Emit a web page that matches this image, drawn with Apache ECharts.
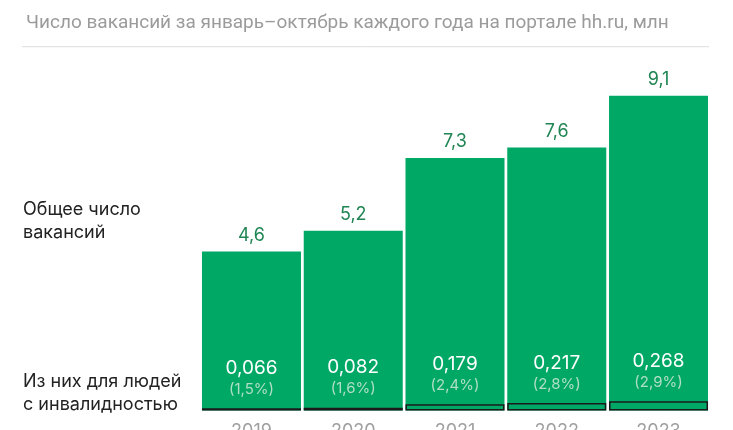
<!DOCTYPE html>
<html>
<head>
<meta charset="utf-8">
<script src="https://cdn.jsdelivr.net/npm/echarts@6/dist/echarts.min.js"></script>
<style>
  html, body { margin: 0; padding: 0; background: #fff; }
  #chart { width: 733px; height: 430px; }
</style>
</head>
<body>
<div id="chart"></div>
<script>
// данные
var years = ['2019', '2020', '2021', '2022', '2023'];
var totalVacancies = [4.6, 5.2, 7.3, 7.6, 9.1];          // млн
var disabledVacancies = [0.066, 0.082, 0.179, 0.217, 0.268]; // млн
var disabledShare = ['1,5%', '1,6%', '2,4%', '2,8%', '2,9%'];

var green = '#00a866';
var font = 'Roboto, "Noto Sans", sans-serif';
var font2 = 'Inter, Roboto, sans-serif';

function fmt(v) {
  return String(v).replace('.', ',');
}

var chart = echarts.init(document.getElementById('chart'));

var option = {
  backgroundColor: '#fff',
  animation: false,
  title: {
    text: 'Число вакансий за январь–октябрь каждого года на портале hh.ru, млн',
    left: 21,
    top: 9,
    textStyle: { color: '#9b9b9b', fontSize: 19, fontWeight: 'normal', fontFamily: font }
  },
  grid: { left: 200.6, right: 23.6, top: 64.6, bottom: 19.5, outerBoundsMode: 'none', containLabel: false },
  xAxis: {
    type: 'category',
    data: years,
    axisLine: { show: false },
    axisTick: { show: false },
    axisLabel: { color: '#a0a0a0', fontSize: 18, fontFamily: font2, margin: 12 }
  },
  yAxis: {
    type: 'value',
    min: 0,
    max: 10,
    show: false
  },
  graphic: [
    {
      type: 'line',
      shape: { x1: 22, y1: 46.7, x2: 709, y2: 46.7 },
      style: { stroke: '#dddddd', lineWidth: 1 }
    },
    {
      type: 'text',
      left: 23,
      top: 198,
      style: {
        text: 'Общее число\nвакансий',
        fill: '#222',
        font: '18px ' + font2,
        lineHeight: 23
      }
    },
    {
      type: 'text',
      left: 23,
      top: 370,
      style: {
        text: 'Из них для людей\nс инвалидностью',
        fill: '#222',
        font: '18px ' + font2,
        lineHeight: 23
      }
    }
  ],
  series: [
    {
      name: 'Общее число вакансий',
      type: 'bar',
      data: totalVacancies,
      barCategoryGap: '2.7%',
      barGap: '-100%',
      z: 2,
      itemStyle: { color: green },
      label: {
        show: true,
        position: 'top',
        distance: 7,
        color: '#1f8553',
        fontSize: 18,
        fontFamily: font2,
        formatter: function (p) { return fmt(p.value); }
      }
    },
    {
      name: 'Из них для людей с инвалидностью',
      type: 'bar',
      data: disabledVacancies,
      barCategoryGap: '2.7%',
      barGap: '-100%',
      z: 3,
      itemStyle: { color: green, borderColor: '#1a1a1a', borderWidth: 1.5 },
      label: {
        show: true,
        position: 'top',
        distance: 9,
        align: 'center',
        formatter: function (p) {
          return '{v|' + fmt(p.value) + '}\n{s|(' + disabledShare[p.dataIndex] + ')}';
        },
        rich: {
          v: { color: '#ffffff', fontSize: 19, fontFamily: font2, lineHeight: 22 },
          s: { color: '#b0dfc5', fontSize: 15, fontFamily: font2, lineHeight: 20 }
        }
      }
    }
  ]
};

chart.setOption(option);
</script>
</body>
</html>
